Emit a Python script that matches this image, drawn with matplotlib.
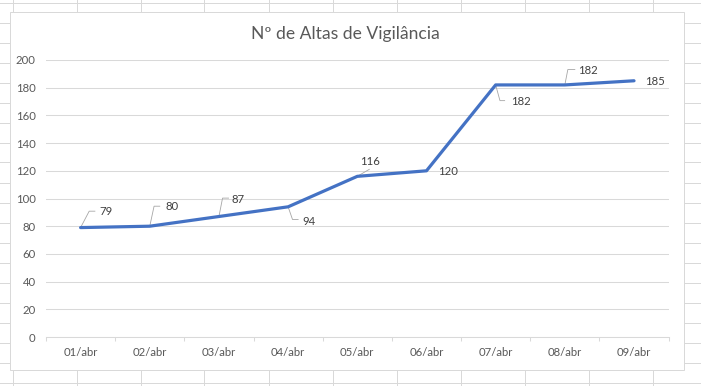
import numpy as np
import matplotlib
matplotlib.use("Agg")
import matplotlib.pyplot as plt
from matplotlib.lines import Line2D
from matplotlib.patches import Rectangle

# ---------------- data ----------------
title = "Nº de Altas de Vigilância"
categories = ["01/abr", "02/abr", "03/abr", "04/abr", "05/abr",
              "06/abr", "07/abr", "08/abr", "09/abr"]
values = [79, 80, 87, 94, 116, 120, 182, 182, 185]
y_ticks = [0, 20, 40, 60, 80, 100, 120, 140, 160, 180, 200]

# ---------------- label placement (pixels, y up, relative to point) ----------------
label_offsets = [(19, 16.5), (15.3, 20), (12.6, 18.2), (14, -13.7), (3.0, 15.3),
                 (11.6, 0), (15, -16), (13.4, 15.4), (11, 0)]
leader_paths = [[(8.6, 16.4), (14.3, 16.4)], [(4.3, 20), (10, 20)],
                [(3.6, 18.4), (9.6, 18.4)], [(4.4, -12.7), (10, -12.7)],
                [(12, 7)], None, [(4.3, -15.7), (9, -15.7)],
                [(3, 15.4), (10, 15.4)], None]

FONT = "Lato"
plt.rcParams["font.family"] = [FONT, "DejaVu Sans"]

W, H, DPI = 701, 386, 100
fig = plt.figure(figsize=(W / DPI, H / DPI), dpi=DPI)
fig.patch.set_facecolor("white")


def fx(px):
    return px / W


def fy(py):
    return 1 - py / H


# spreadsheet grid in the background
grid_col = "#d9d9d9"
px_lw = 72 / DPI
for k in range(20):
    yy = 2.5 + 20 * k
    fig.add_artist(Line2D([0, 1], [fy(yy), fy(yy)], transform=fig.transFigure,
                          color=grid_col, lw=px_lw, zorder=-3))
for k in range(11):
    xx = 12.5 + 64 * k
    fig.add_artist(Line2D([fx(xx), fx(xx)], [0, 1], transform=fig.transFigure,
                          color=grid_col, lw=px_lw, zorder=-3))

# chart area
fig.add_artist(Rectangle((fx(9.5), fy(369.5)), fx(683.5) - fx(9.5), (369.5 - 11.5) / H,
                         transform=fig.transFigure, facecolor="white",
                         edgecolor="#d9d9d9", lw=px_lw, zorder=-2))

# title
fig.text(fx(345), fy(38.5), title, ha="center", va="baseline",
         fontsize=12.6, color="#595959")

# plot area
left, right, top, bottom = 46, 668.6, 60, 337
ax = fig.add_axes([fx(left), fy(bottom), (right - left) / W, (bottom - top) / H])
ax.set_facecolor("none")
x = np.arange(len(categories))
ax.set_xlim(-0.5, len(categories) - 0.5)
ax.set_ylim(y_ticks[0], y_ticks[-1])
ax.set_yticks(y_ticks)
ax.set_yticklabels([str(v) for v in y_ticks])
ax.set_xticks(x)
ax.set_xticklabels(categories)
ax.set_xticks(np.arange(-0.5, len(categories), 1.0), minor=True)

for s in ["top", "right", "left"]:
    ax.spines[s].set_visible(False)
ax.spines["bottom"].set_color("#d9d9d9")
ax.spines["bottom"].set_linewidth(0.75)
ax.yaxis.grid(True, color="#d9d9d9", lw=0.75)
ax.set_axisbelow(True)
ax.tick_params(axis="y", length=0, pad=7.5, labelsize=8.2, labelcolor="#595959")
ax.tick_params(axis="x", which="major", length=0, pad=7.5, labelsize=8.2,
               labelcolor="#595959")
ax.tick_params(axis="x", which="minor", length=3, width=0.75, color="#d9d9d9",
               direction="out")

ax.plot(x, values, color="#4472C4", lw=2.3, solid_joinstyle="round",
        solid_capstyle="round", zorder=3, clip_on=False)

# data labels with leader lines
to_disp = ax.transData
to_data = ax.transData.inverted()
for i, v in enumerate(values):
    p = np.array(to_disp.transform((x[i], v)))
    dx, dy = label_offsets[i]
    ax.annotate(str(v), xy=(x[i], v), xytext=(dx, dy - 4.2), textcoords="offset pixels",
                ha="left", va="baseline", fontsize=8.2, color="#404040",
                annotation_clip=False)
    if leader_paths[i]:
        verts = [p] + [p + np.array(o) for o in leader_paths[i]]
        dv = to_data.transform(np.array(verts))
        ax.plot(dv[:, 0], dv[:, 1], color="#a6a6a6", lw=0.6, clip_on=False, zorder=2)

fig.savefig("out.png", dpi=DPI, facecolor="white")
